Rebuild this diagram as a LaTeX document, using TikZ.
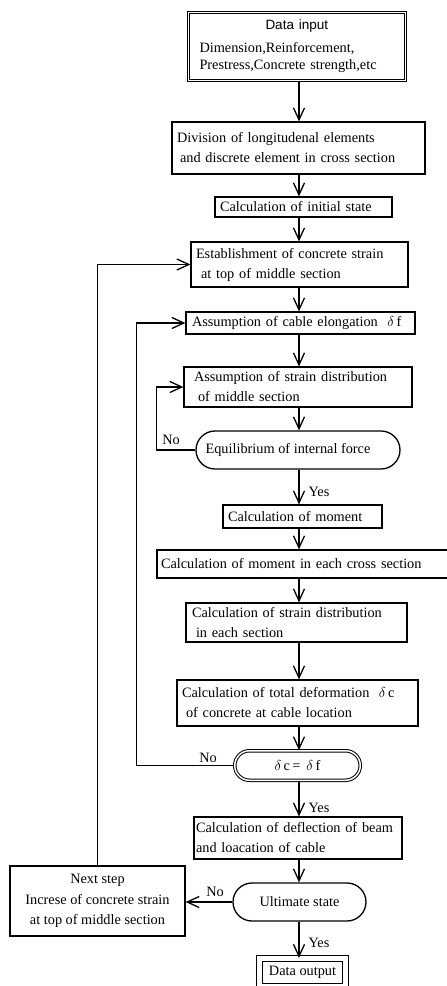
\documentclass[tikz,border=0pt]{standalone}
\usepackage{fontspec}
\setmainfont{Liberation Serif}
\setsansfont{Liberation Sans}
\usetikzlibrary{arrows.meta,calc}
\begin{document}
\begin{tikzpicture}[x=1pt,y=-1pt,
  font=\fontsize{14.3}{20}\selectfont,
  pbox/.style={draw,line width=1.2pt,rectangle,align=left,inner ysep=0pt},
  term/.style={draw,line width=1.3pt,rectangle,rounded corners=#1,inner sep=0pt,align=center},
  arr/.style={line width=1.3pt,-{Straight Barb[length=12pt,width=11pt,line width=1.3pt]}},
  lab/.style={inner sep=0pt}]
\useasboundingbox[fill=white] (0,0) rectangle (447,986);
\clip (0,0) rectangle (447,986);
\coordinate (sp) at (299,0);

\node[pbox,double,double distance=1.5pt,line width=0.9pt,minimum height=68pt,
  text width=195pt,inner xsep=11pt,font=\fontsize{14.3}{17}\selectfont] (input) at (297,46.5)
  {\hspace*{66pt}{\sffamily\fontsize{13.5}{17}\selectfont Data input}\\[6pt]
   Dimension,Reinforcement,\\Prestress,Concrete strength,etc};
\node[pbox,minimum height=52pt,text width=243pt,inner xsep=5pt] (div) at (298.5,148)
  {Division of longitudenal elements\\\hspace*{3pt}and discrete element in cross section};
\node[pbox,minimum height=20pt,text width=167pt,inner xsep=5pt] (init) at (303.5,207)
  {Calculation of initial state};
\node[pbox,minimum height=45pt,text width=207pt,inner xsep=5pt] (est) at (299.5,264.5)
  {Establishment of concrete strain\\\hspace*{5pt}at top of middle section};
\node[pbox,minimum height=22pt,text width=217pt,inner xsep=6pt] (cab) at (300.5,323)
  {Assumption of cable elongation \ $\delta$\,f};
\node[pbox,minimum height=40pt,text width=208pt,inner xsep=10pt] (sd) at (298,387)
  {Assumption of strain distribution\\\hspace*{4pt}of middle section};
\node[term=19pt,minimum width=204pt,minimum height=38pt] (eq) at (298,450)
  {Equilibrium of internal force\hspace*{20pt}};
\node[pbox,minimum height=23pt,text width=149pt,inner xsep=5pt] (mom) at (302.5,516.5)
  {Calculation of moment};
\node[pbox,minimum height=28pt,text width=305pt,inner xsep=4pt] (momx) at (313.5,564)
  {Calculation of moment in each cross section};
\node[pbox,minimum height=39pt,text width=209pt,inner xsep=6pt] (sdx) at (296.5,622.5)
  {Calculation of strain distribution\\\hspace*{4pt}in each section};
\node[pbox,minimum height=46pt,text width=231pt,inner xsep=5pt] (td) at (297.5,703)
  {Calculation of total deformation \ $\delta$\,c\\\hspace*{4pt}of concrete at cable location};
\node[draw,double,double distance=1.5pt,line width=1pt,rounded corners=14.7pt,inner sep=0pt,
  minimum width=125.5pt,minimum height=29.5pt] (dc) at (297.5,765.5)
  {$\delta$\,c\,=\ \,$\delta$\,f};
\node[pbox,minimum height=42pt,text width=204pt,inner xsep=2pt] (defl) at (298,838)
  {Calculation of deflection of beam\\and loacation of cable};
\node[term=19pt,minimum width=133pt,minimum height=38pt] (ult) at (299.5,902)
  {Ultimate state};
\node[draw,line width=1.2pt,align=center,inner sep=0pt,minimum width=175pt,minimum height=70pt,
  font=\fontsize{14.3}{20.5}\selectfont] (next) at (97.5,901)
  {Next step\\Increse of concrete strain\\at top of middle section};
\node[draw,double,double distance=4.6pt,line width=1.2pt,inner sep=0pt,
  minimum width=86pt,minimum height=28pt] (out) at (302.5,972.5) {Data output};

\draw[arr] (input.south -| sp) -- (div.north -| sp);
\draw[arr] (div.south -| sp) -- (init.north -| sp);
\draw[arr] (init.south -| sp) -- (est.north -| sp);
\draw[arr] (est.south -| sp) -- (cab.north -| sp);
\draw[arr] (cab.south -| sp) -- (sd.north -| sp);
\draw[arr] (sd.south -| sp) -- (eq.north -| sp);
\draw[arr] (eq.south -| sp) -- (mom.north -| sp);
\draw[arr] (mom.south -| sp) -- (momx.north -| sp);
\draw[arr] (momx.south -| sp) -- (sdx.north -| sp);
\draw[arr] (sdx.south -| sp) -- (td.north -| sp);
\draw[arr] (td.south -| sp) -- (dc.north -| sp);
\draw[arr] (dc.south -| sp) -- (defl.north -| sp);
\draw[arr] (defl.south -| sp) -- (ult.north -| sp);
\draw[arr] (ult.south -| sp) -- (out.north -| sp);

\draw[arr] (eq.west) -- ++(-39,0) |- (sd.west);
\draw[arr] (dc.west) -- ++(-98,0) |- (cab.west);
\draw[arr] (ult.west) -- (ult.west -| next.east);
\draw[arr] (next.north) |- (est.west);

\node[lab] (no1) at (171,440) {No};
\node[lab] (no2) at (208,758) {No};
\node[lab] (no3) at (215,892) {No};
\node[lab] (yes1) at (319,492) {Yes};
\node[lab] (yes2) at (319,808) {Yes};
\node[lab] (yes3) at (319,943) {Yes};
\end{tikzpicture}
\end{document}
